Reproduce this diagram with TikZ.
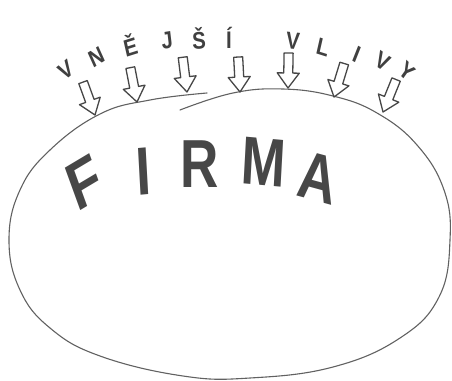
\documentclass[tikz,border=0pt]{standalone}
\usepackage{fontspec}
\setmainfont{Liberation Sans}
\newcommand{\accl}[2]{\makebox[0pt][l]{#1}\phantom{#2}}
\begin{document}
\begin{tikzpicture}[x=1pt,y=-1pt,
  outline/.style={draw=black!62, line width=1.1pt, line join=round, line cap=round},
  arrowbody/.style={draw=black!72, line width=1.3pt, line join=round, fill=white},
  arr/.pic={\path[arrowbody] (0,0) -- (11,-15) -- (4.5,-15) -- (4.5,-35) -- (-4.5,-35) -- (-4.5,-15) -- (-11,-15) -- cycle;},
  big/.style={font=\fontsize{68}{68}\selectfont\bfseries, text=black!72, inner sep=0pt, xscale=0.78},
  small/.style={font=\fontsize{24}{24}\selectfont\bfseries, text=black!75, inner sep=0pt, xscale=0.85}]
\useasboundingbox (0,0) rectangle (452,380);
% outline of the firm (hand-drawn, overlapping at the top)
\draw[outline] plot[smooth, tension=0.7] coordinates {
  (180,110) (233,93) (283,89) (333,96) (377,113) (417,145) (444,190) (450,240)
  (439,297) (400,338) (333,367) (250,378) (183,376) (100,356) (50,328) (20,290)
  (9,240) (20,190) (50,150) (100,114) (150,100) (207,93)};
% arrows
\pic[rotate=20] at (95,115) {arr};
\pic[rotate=11] at (137,102) {arr};
\pic[rotate=7] at (187,92) {arr};
\pic[rotate=3] at (240,92) {arr};
\pic[rotate=-1] at (288,88) {arr};
\pic[rotate=-17] at (334,97) {arr};
\pic[rotate=-22] at (383,112) {arr};
% VNĚJŠÍ VLIVY
\node[small, rotate=35] (v1) at (66,70) {V};
\node[small, rotate=28] (n1) at (97,57) {N};
\node[small, rotate=15] (e1) at (130,45) {\accl{Ě}{E}};
\node[small, rotate=8] (j1) at (167,41) {J};
\node[small, rotate=3] (s1) at (199,38) {\accl{Š}{S}};
\node[small, rotate=0] (i1) at (229,38) {\accl{Í}{I}};
\node[small, rotate=-5] (v2) at (293,41) {V};
\node[small, rotate=-15] (l2) at (323,47) {L};
\node[small, rotate=-25] (i2) at (357,54) {I};
\node[small, rotate=-30] (v3) at (383,61) {V};
\node[small, rotate=-40] (y3) at (407,71) {Y};
% FIRMA
\node[big, rotate=25] (F) at (84,183) {F};
\node[big, rotate=4] (I) at (144,172) {I};
\node[big, rotate=0] (R) at (200,164) {R};
\node[big, rotate=-4] (M) at (264,162) {M};
\node[big, rotate=-12] (A) at (318,178) {A};
\end{tikzpicture}
\end{document}
